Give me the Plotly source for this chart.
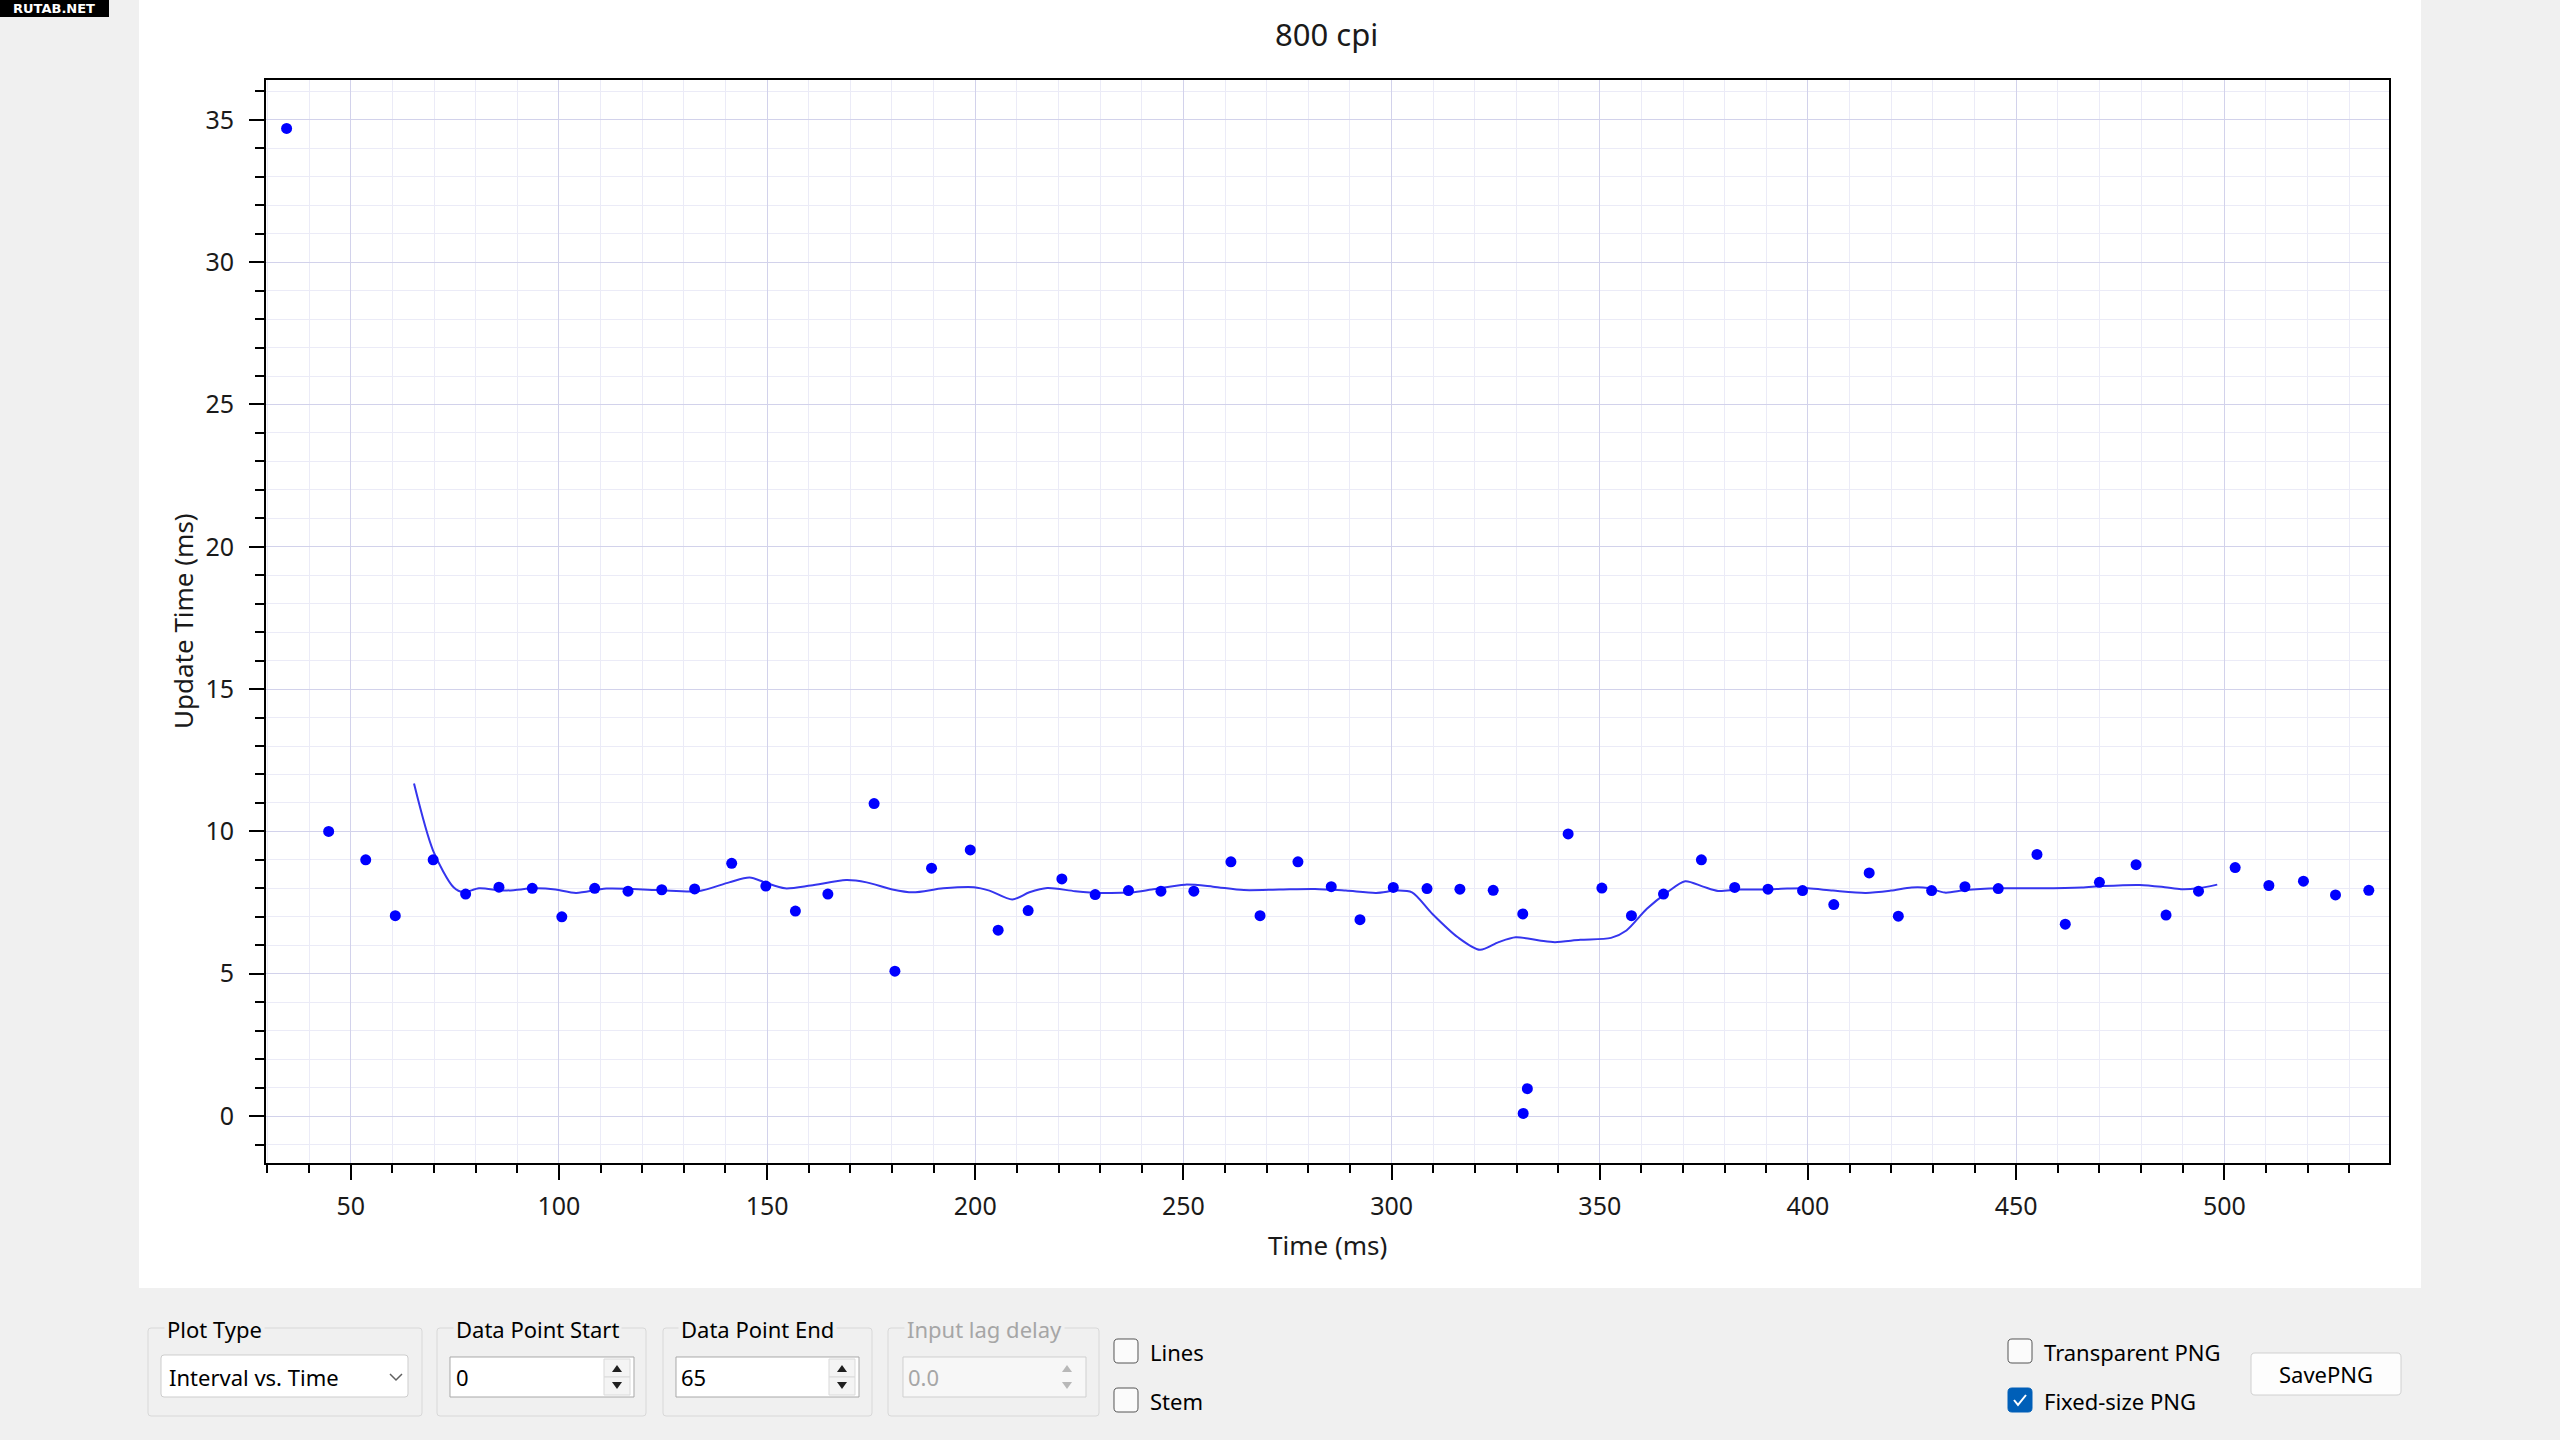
import plotly.graph_objects as go

# ---------------- data ----------------
time_ms = [34.6, 44.7, 53.6, 60.7, 69.8, 77.6, 85.6, 93.6, 100.7, 108.6,
           116.6, 124.7, 132.6, 141.5, 149.7, 156.8, 164.6, 175.7, 180.7, 189.5,
           198.8, 205.5, 212.7, 220.8, 228.8, 236.8, 244.6, 252.5, 261.4, 268.4,
           277.5, 285.5, 292.4, 300.4, 308.5, 316.4, 324.4, 331.5, 331.6, 332.6,
           342.4, 350.5, 357.6, 365.3, 374.4, 382.4, 390.4, 398.7, 406.2, 414.7,
           421.7, 429.7, 437.7, 445.7, 455.0, 461.8, 470.0, 478.8, 486.0, 493.8,
           502.6, 510.7, 519.0, 526.7, 534.7]
update_ms = [34.7, 10.0, 9.0, 7.04, 9.0, 7.8, 8.04, 8.0, 7.0, 8.0,
             7.9, 7.95, 7.98, 8.88, 8.08, 7.2, 7.8, 10.98, 5.09, 8.71,
             9.35, 6.53, 7.22, 8.33, 7.78, 7.92, 7.9, 7.9, 8.93, 7.04,
             8.93, 8.06, 6.9, 8.03, 7.99, 7.97, 7.93, 7.1, 0.09, 0.96,
             9.91, 8.01, 7.04, 7.8, 9.0, 8.03, 7.97, 7.92, 7.43, 8.54,
             7.02, 7.92, 8.06, 7.99, 9.19, 6.74, 8.21, 8.83, 7.06, 7.9,
             8.73, 8.1, 8.25, 7.77, 7.93]

smooth_x = [65.2, 69.8, 74.7, 77.1, 80.8, 86.9, 94.3, 99.2, 104.1, 111.4,
            123.7, 133.5, 140.9, 145.8, 149.4, 154.3, 160.5, 169.0, 173.9, 180.1,
            185.0, 192.3, 199.7, 203.4, 208.9, 213.0, 217.3, 224.0, 230.1, 237.5,
            242.4, 250.4, 257.1, 264.5, 273.0, 281.6, 289.0, 296.3, 301.2, 304.9,
            309.8, 315.9, 321.2, 325.7, 329.8, 335.5, 339.2, 345.3, 352.7, 356.4,
            361.3, 366.2, 370.5, 374.8, 378.4, 383.3, 389.5, 395.0, 400.0, 406.0,
            413.9, 419.9, 424.9, 428.9, 432.9, 437.8, 445.8, 455.8, 465.7, 470.7,
            479.7, 485.7, 489.6, 493.6, 498.3]
smooth_y = [11.68, 9.32, 8.04, 7.86, 8.0, 7.92, 8.0, 7.96, 7.84, 7.99,
            7.94, 7.9, 8.21, 8.38, 8.21, 8.0, 8.1, 8.29, 8.21, 7.96,
            7.86, 8.0, 8.04, 7.92, 7.61, 7.86, 8.01, 7.9, 7.84, 7.86,
            7.96, 8.13, 8.06, 7.94, 7.96, 7.98, 7.92, 7.84, 7.92, 7.86,
            7.1, 6.28, 5.84, 6.11, 6.28, 6.17, 6.11, 6.19, 6.26, 6.52,
            7.28, 7.86, 8.25, 8.06, 7.91, 7.96, 7.96, 7.99, 8.0, 7.92,
            7.84, 7.92, 8.03, 8.01, 7.85, 7.94, 8.0, 8.0, 8.03, 8.08,
            8.12, 8.04, 7.97, 8.0, 8.13]

title_text = "800 cpi"
x_title = "Time (ms)"
y_title = "Update Time (ms)"

# ---------------- page geometry helpers ----------------
W, H = 2560, 1440
FONT = "Segoe UI, Noto Sans, Open Sans, sans-serif"


def fx(x):
    return x / W


def fy(y):
    return 1 - y / H


def P(x, y):
    return f"{fx(x):.6f},{fy(y):.6f}"


def rrect_path(x0, y0, x1, y1, r):
    return (f"M {P(x0 + r, y0)} L {P(x1 - r, y0)} Q {P(x1, y0)} {P(x1, y0 + r)} "
            f"L {P(x1, y1 - r)} Q {P(x1, y1)} {P(x1 - r, y1)} L {P(x0 + r, y1)} "
            f"Q {P(x0, y1)} {P(x0, y1 - r)} L {P(x0, y0 + r)} Q {P(x0, y0)} {P(x0 + r, y0)} Z")


shapes = []
annotations = []


def rect(x0, y0, x1, y1, fill=None, line=None, lw=1, r=0, layer="above"):
    d = dict(type="path", xref="paper", yref="paper",
             path=rrect_path(x0, y0, x1, y1, r) if r else
             f"M {P(x0, y0)} L {P(x1, y0)} L {P(x1, y1)} L {P(x0, y1)} Z",
             fillcolor=fill if fill else "rgba(0,0,0,0)",
             line=dict(color=line if line else "rgba(0,0,0,0)", width=lw if line else 0),
             layer=layer)
    shapes.append(d)


def poly(points, fill=None, line=None, lw=1, closed=True):
    path = "M " + " L ".join(P(x, y) for x, y in points) + (" Z" if closed else "")
    shapes.append(dict(type="path", xref="paper", yref="paper", path=path,
                       fillcolor=fill if fill else "rgba(0,0,0,0)",
                       line=dict(color=line if line else "rgba(0,0,0,0)", width=lw if line else 0),
                       layer="above"))


def text(t, x, y, size=22, color="#000000", xanchor="left", bg=None, bold=False, angle=0, family=FONT):
    a = dict(text=f"<b>{t}</b>" if bold else t, x=fx(x), y=fy(y), xref="paper", yref="paper",
             xanchor=xanchor, yanchor="middle", showarrow=False, textangle=angle,
             font=dict(size=size, color=color, family=family))
    if bg:
        a["bgcolor"] = bg
        a["borderpad"] = 2
    annotations.append(a)


# white chart panel
rect(139, 0, 2421, 1288, fill="#ffffff", layer="below")

# watermark
rect(0, 0, 109, 17, fill="#000000")
text("RUTAB.NET", 54, 8.5, size=13, color="#ffffff", xanchor="center", bold=True,
     family="DejaVu Sans, sans-serif")

# titles
text(title_text, 1326, 34, size=31, color="#1a1a1a", xanchor="center")
text(x_title, 1327, 1245, size=26, color="#1a1a1a", xanchor="center")
text(y_title, 183, 621, size=26, color="#1a1a1a", xanchor="center", angle=-90)

# ---------------- bottom controls ----------------
GRP = "#d8d8d8"
BG = "#f0f0f0"


def group(x0, x1, label, lx, color="#000000"):
    rect(x0, 1328, x1, 1416, line=GRP, lw=1, r=3)
    text(label, lx, 1329, size=22, color=color, bg=BG)


def spinner(cx, color="#202020"):
    poly([(cx - 5, 1372), (cx + 5, 1372), (cx, 1365)], fill=color)
    poly([(cx - 5, 1382), (cx + 5, 1382), (cx, 1389)], fill=color)


# Plot Type
group(148, 422, "Plot Type", 164)
rect(161, 1355, 408, 1397, fill="#ffffff", line="#cdcdcd", r=3)
text("Interval vs. Time", 167, 1377, size=22)
poly([(390, 1374), (396, 1380), (402, 1374)], line="#606060", lw=1.5, closed=False)

# Data Point Start
group(437, 646, "Data Point Start", 453)
rect(450, 1357, 634, 1397, fill="#ffffff", line="#a8a8a8")
rect(604, 1359, 630, 1377, fill="#f4f4f4", line="#dadada")
rect(604, 1377, 630, 1395, fill="#f4f4f4", line="#dadada")
spinner(617)
text("0", 454, 1377, size=22)

# Data Point End
group(663, 872, "Data Point End", 678)
rect(676, 1357, 859, 1397, fill="#ffffff", line="#a8a8a8")
rect(829, 1359, 855, 1377, fill="#f4f4f4", line="#dadada")
rect(829, 1377, 855, 1395, fill="#f4f4f4", line="#dadada")
spinner(842)
text("65", 679, 1377, size=22)

# Input lag delay (disabled)
group(888, 1099, "Input lag delay", 904, color="#a6a6a6")
rect(903, 1357, 1086, 1397, fill="#f7f7f7", line="#cfcfcf")
spinner(1067, color="#b8b8b8")
text("0.0", 906, 1377, size=22, color="#a6a6a6")


def checkbox(cx, cy, label, checked=False):
    if checked:
        rect(cx - 12, cy - 12, cx + 12, cy + 12, fill="#005fb8", line="#005fb8", r=4)
        poly([(cx - 6, cy), (cx - 2, cy + 5), (cx + 6, cy - 5)], line="#ffffff", lw=2, closed=False)
    else:
        rect(cx - 12, cy - 12, cx + 12, cy + 12, fill="#fbfbfb", line="#555555", r=4)
    text(label, cx + 22, cy + 1, size=22)


checkbox(1126, 1351, "Lines")
checkbox(1126, 1400, "Stem")
checkbox(2020, 1351, "Transparent PNG")
checkbox(2020, 1400, "Fixed-size PNG", checked=True)

# SavePNG button
rect(2251, 1353, 2401, 1395, fill="#fdfdfd", line="#d0d0d0", r=4)
text("SavePNG", 2326, 1374, size=22, xanchor="center")

# ---------------- figure ----------------
fig = go.Figure()
fig.add_trace(go.Scatter(x=smooth_x, y=smooth_y, mode="lines",
                         line=dict(color="#3535ee", width=2, shape="spline", smoothing=0.8),
                         hoverinfo="skip"))
fig.add_trace(go.Scatter(x=time_ms, y=update_ms, mode="markers",
                         marker=dict(color="#0000ff", size=11, line=dict(width=0))))

axis_common = dict(ticks="outside", tickcolor="#000000", tickwidth=1.5,
                   showline=True, linecolor="#000000", linewidth=2, mirror=True,
                   showgrid=True, gridcolor="#d2d2eb", gridwidth=1, zeroline=False,
                   tickfont=dict(size=25, color="#1a1a1a", family=FONT))

fig.update_layout(
    width=W, height=H,
    margin=dict(l=0, r=0, t=0, b=0),
    paper_bgcolor=BG, plot_bgcolor="#ffffff",
    showlegend=False,
    xaxis=dict(domain=[266 / W, 2389 / W], range=[29.65, 539.55],
               tick0=0, dtick=50, ticklen=15, ticklabelstandoff=5,
               minor=dict(tick0=0, dtick=10, ticks="outside", ticklen=8, tickwidth=1.5,
                          tickcolor="#000000", showgrid=True, gridcolor="#ebebf7", gridwidth=1),
               **axis_common),
    yaxis=dict(domain=[1 - 1163 / H, 1 - 80 / H], range=[-1.65, 36.4],
               tick0=0, dtick=5, ticklen=15, ticklabelstandoff=10,
               minor=dict(tick0=0, dtick=1, ticks="outside", ticklen=9, tickwidth=1.5,
                          tickcolor="#000000", showgrid=True, gridcolor="#ebebf7", gridwidth=1),
               **axis_common),
    shapes=shapes,
    annotations=annotations,
)

fig.write_html("out.html", config={"displayModeBar": False},
               post_script="document.body.style.margin='0';document.body.style.overflow='hidden';")
